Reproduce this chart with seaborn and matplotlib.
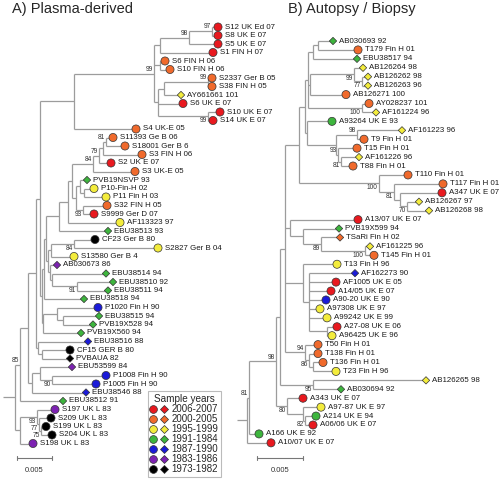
import matplotlib
matplotlib.use("Agg")
import matplotlib.pyplot as plt
import seaborn as sns
import pandas as pd
from matplotlib.collections import LineCollection
from matplotlib.lines import Line2D
from matplotlib.legend_handler import HandlerTuple

sns.set_style("white")
plt.rcParams['font.family'] = ['Liberation Sans', 'DejaVu Sans']

# Legend classes (sample years) and their colours
year_classes = ['2006-2007', '2000-2005', '1995-1999', '1991-1984',
                '1987-1990', '1983-1986', '1973-1982']
year_colors = ['#e8191f', '#f06a2c', '#f3ec3c', '#3db53d',
               '#1b1bd8', '#7d22b2', '#000000']

# ---- Panel A: plasma-derived sequences ----
labels_a = ['S12 UK Ed 07', 'S8 UK E 07', 'S5 UK E 07', 'S1 FIN H 07',
            'S6 FIN H 06', 'S10 FIN H 06', 'S2337 Ger B 05', 'S38 FIN H 05',
            'AY661661 101', 'S6 UK E 07', 'S10 UK E 07', 'S14 UK E 07',
            'S4 UK-E 05', 'S11393 Ge B 06', 'S18001 Ger B 6', 'S3 FIN H 06',
            'S2 UK E 07', 'S3 UK-E 05', 'PVB19NSVP 93', 'P10-Fin-H 02',
            'P11 Fin H 03', 'S32 FIN H 05', 'S9999 Ger D 07', 'AF113323 97',
            'EBU38513 93', 'CF23 Ger B 80', 'S2827 Ger B 04', 'S13580 Ger B 4',
            'AB030673 86', 'EBU38514 94', 'EBU38510 92', 'EBU38511 94',
            'EBU38518 94', 'P1020 Fin H 90', 'EBU38515 94', 'PVB19X528 94',
            'PVB19X560 94', 'EBU38516 88', 'CF15 GER B 80', 'PVBAUA 82',
            'EBU53599 84', 'P1008 Fin H 90', 'P1005 Fin H 90', 'EBU38546 88',
            'EBU38512 91', 'S197 UK L 83', 'S209 UK L 83', 'S199 UK L 83',
            'S204 UK L 83', 'S198 UK L 83', 'PVBPRO 73']
years_a = [0, 0, 0, 0, 1, 1, 1, 1, 2, 0, 0, 0, 1, 1, 1, 1, 0, 1, 3, 2, 2, 1,
           0, 2, 3, 6, 2, 2, 5, 3, 3, 3, 3, 4, 3, 3, 3, 4, 6, 6, 5, 4, 4, 4,
           3, 5, 6, 6, 6, 5, 6]
marks_a = "ooooooooDoooooooooDoooooDoooDDDDDoDDDDoDDooDDoooooD"

# tree A in Newick form; tips are indices above, branch lengths in 1/7000 subst/site,
# internal names are bootstrap values ('v' = printed under the branch)
clade_a_top = ("(((((0:6,1:6)97:23,2:29)98:29,3:53):6,(4:5,5:10):6,"
               "(((6:4,7:4)99:44,8:17):6,9:25,(10:12,11:5)99v:50):4)99:80,12:62)")
clade_a_mid = ("(((((((13:7,14:19)81:3,15:39):4,16:12)79:6,17:42)84:21,"
               "((18:7,(19:10,20:22):4):4,(21:24,22:11)93v:7):4):4,23:52):9,24:49)")
clade_a_ebu = ("(((25:21,26:84)84v:23,27:23):3,"
               "(28:7,(29:54,(30:36,31:31)91v:25):2):2)")
clade_a_low = "((33:41,(34:36,35:30):6):14,36:38)"
clade_a_old = "(37:50,(38:28,39:28):4)"
clade_a_fin = "((40:32,(41:54,42:44)90v:12):8,43:54)"
clade_a_uk = "((45:18,(46:12,(47:5,48:11)75v:2)77v:2)93v:17,49:13)"
tree_a = ("(((((" + clade_a_top + ":34,(((" + clade_a_mid + ":13," + clade_a_ebu
          + ":2):2,32:40):2," + clade_a_low + ":1):2):4," + clade_a_old + ":2):8,"
          + clade_a_fin + ":4):8,44:43)85:5," + clade_a_uk + ":5):12,50:29);")
unit_a = 0.005 / 35

# ---- Panel B: autopsy / biopsy sequences ----
labels_b = ['AB030693 92', 'T179 Fin H 01', 'EBU38517 94', 'AB126264 98',
            'AB126262 98', 'AB126263 96', 'AB126271 100', 'AY028237 101',
            'AF161224 96', 'A93264 UK E 93', 'AF161223 96', 'T9 Fin H 01',
            'T15 Fin H 01', 'AF161226 96', 'T88 Fin H 01', 'T110 Fin H 01',
            'T117 Fin H 01', 'A347 UK E 07', 'AB126267 97', 'AB126268 98',
            'A13/07 UK E 07', 'PVB19X599 94', 'TSaRi Fin H 02', 'AF161225 96',
            'T145 Fin H 01', 'T13 Fin H 96', 'AF162273 90', 'AF1005 UK E 05',
            'A14/05 UK E 07', 'A90-20 UK E 90', 'A97308 UK E 97', 'A99242 UK E 99',
            'A27-08 UK E 06', 'A96425 UK E 96', 'T50 Fin H 01', 'T138 Fin H 01',
            'T136 Fin H 01', 'T23 Fin H 96', 'AB126265 98', 'AB030694 92',
            'A343 UK E 07', 'A97-87 UK E 97', 'A214 UK E 94', 'A06/06 UK E 07',
            'A166 UK E 92', 'A10/07 UK E 07', 'PVBPRO 73']
years_b = [3, 1, 3, 2, 2, 2, 1, 1, 2, 3, 2, 1, 1, 2, 1, 1, 1, 0, 2, 2, 0, 3,
           1, 2, 1, 2, 4, 0, 0, 4, 2, 2, 0, 2, 1, 1, 1, 2, 2, 3, 0, 2, 3, 0,
           3, 0, 6]
marks_b = "DoDDDDooDoDooDooooDDoDDDooDoooooooooooDDooooooD"

# branch lengths in 1/9200 subst/site
clade_b_top = ("((((0:15,1:40):5,2:44):5,((3:9,(4:6,5:6)77v:8)99v:44,6:36):2,"
               "(7:7,8:14)100v:54):3,(9:25,((10:45,11:7)98:21,"
               "(12:19,(13:18,14:12)81v:3)93:2):29):2)")
clade_b_t3 = "(15:29,(16:49,(17:42,(18:12,19:22)70v:7):6)81v:15)100v"
clade_b_ts = "(20:68,(21:36,(22:19,(23:5,24:9)100v:44)89v:18):13)"
clade_b_ae = "(25:34,(26:46,27:27,28:22,29:17,30:11,31:18,(32:10,33:5):18):6)"
clade_b_tf = "(34:13,(35:9,(36:10,37:23):4)86v:4)94"
clade_b_ab = "(38:113,39:28)95v"
clade_b_a3 = "(40:16,(41:18,(42:11,43:8)82v:2):16)80v"
tree_b = ("((((((" + clade_b_top + ":6," + clade_b_t3 + ":80):14," + clade_b_ts
          + ":5," + clade_b_ae + ":18," + clade_b_tf + ":20):5," + clade_b_ab
          + ":33):4," + clade_b_a3 + ":11)98:27,44:10)81:2,45:24):10,46:14);")
unit_b = 0.005 / 46


def parse_newick(s):
    pos = 0

    def node():
        nonlocal pos
        kids = []
        if s[pos] == '(':
            pos += 1
            kids.append(node())
            while s[pos] == ',':
                pos += 1
                kids.append(node())
            pos += 1
        start = pos
        while s[pos] not in ':,);':
            pos += 1
        name = s[start:pos]
        length = 0.0
        if s[pos] == ':':
            pos += 1
            start = pos
            while s[pos] not in ',);':
                pos += 1
            length = float(s[start:pos])
        return {'name': name, 'len': length, 'kids': kids}

    return node()


def layout(nd, x0, unit, top, step, segs, tips, supports):
    x = x0 + nd['len'] * unit
    if not nd['kids']:
        y = top + step * int(nd['name'])
        tips.append((int(nd['name']), x, y))
    else:
        ys = [layout(k, x, unit, top, step, segs, tips, supports) for k in nd['kids']]
        y = (ys[0] + ys[-1]) / 2
        segs.append([(x, ys[0]), (x, ys[-1])])
        if nd['name']:
            supports.append((x, y, nd['name']))
    if nd['len'] > 0:
        segs.append([(x0, y), (x, y)])
    return y


W, H = 499, 479
fig = plt.figure(figsize=(W / 100, H / 100), dpi=100)
palette = dict(zip(year_classes, year_colors))

panels = [
    # tree, labels, years, marks, unit, left px, width px, root px, first row px, row step
    (tree_a, labels_a, years_a, marks_a, unit_a, 0, 250, 3, 27, 8.5, 17),
    (tree_b, labels_b, years_b, marks_b, unit_b, 230, 269, 237, 41, 8.93, 257),
]

for tree, labels, years, marks, unit, left, width, root, top, step, bar_px in panels:
    ax = fig.add_axes([left / W, 0, width / W, 1])
    segs, tips, supports = [], [], []
    layout(parse_newick(tree), 0.0, unit, top, step, segs, tips, supports)
    ax.add_collection(LineCollection(segs, colors='#9c9c9c', linewidths=0.9, zorder=1))

    tips.sort()
    df = pd.DataFrame({
        'x': [t[1] for t in tips],
        'y': [t[2] for t in tips],
        'year': [year_classes[years[t[0]]] for t in tips],
        'mark': [marks[t[0]] for t in tips],
        'label': [labels[t[0]] for t in tips],
    })
    for m, size in (('o', 34), ('D', 14)):
        sub = df[df['mark'] == m]
        sns.scatterplot(data=sub, x='x', y='y', hue='year', palette=palette,
                        hue_order=year_classes, marker=m, s=size,
                        edgecolor='#333333', linewidth=0.5, legend=False,
                        ax=ax, zorder=3)
    for _, r in df.iterrows():
        off = 5.0 if r['mark'] == 'o' else 4.2
        ax.annotate(r['label'], (r['x'], r['y']), xytext=(off, 0),
                    textcoords='offset points', ha='left', va='center',
                    fontsize=5.7, color='#1a1a1a')
    for x, y, name in supports:
        below = name.endswith('v')
        ax.annotate(name.rstrip('v'), (x, y), xytext=(-0.8, -0.6 if below else 0.6),
                    textcoords='offset points', ha='right',
                    va='top' if below else 'bottom', fontsize=4.8, color='#333333')

    # scale bar 0.005
    bx = (bar_px - root) * unit
    ax.plot([bx, bx + 0.005], [458, 458], color='#777777', lw=0.8)
    ax.plot([bx, bx], [456, 460], color='#777777', lw=0.8)
    ax.plot([bx + 0.005, bx + 0.005], [456, 460], color='#777777', lw=0.8)
    ax.text(bx + 0.0025, 470, '0.005', ha='center', va='center', fontsize=5.5,
            color='#333333')

    ax.set_xlim(-root * unit + left * unit, (left + width - root) * unit)
    ax.set_ylim(H, 0)
    ax.axis('off')

fig.text(12 / W, 1 - 9 / H, 'A) Plasma-derived', fontsize=10.5, va='center', ha='left')
fig.text(288 / W, 1 - 9 / H, 'B) Autopsy / Biopsy', fontsize=10.5, va='center', ha='left')

handles = []
for c in year_colors:
    circ = Line2D([], [], marker='o', linestyle='None', markerfacecolor=c,
                  markeredgecolor='#333333', markeredgewidth=0.5, markersize=5.6)
    diam = Line2D([], [], marker='D', linestyle='None', markerfacecolor=c,
                  markeredgecolor='#333333', markeredgewidth=0.5, markersize=3.8)
    handles.append((circ, diam))
leg = fig.legend(handles, year_classes, title='Sample years',
                 handler_map={tuple: HandlerTuple(ndivide=None, pad=0.6)},
                 loc='upper left', bbox_to_anchor=(148 / W, 1 - 391 / H),
                 fontsize=7, title_fontsize=7.2, frameon=True, fancybox=False,
                 edgecolor='#aaaaaa', handlelength=1.6, handletextpad=0.5,
                 labelspacing=0.0, borderpad=0.3, borderaxespad=0)
leg.get_frame().set_linewidth(0.8)

fig.savefig('out.png', dpi=100)
